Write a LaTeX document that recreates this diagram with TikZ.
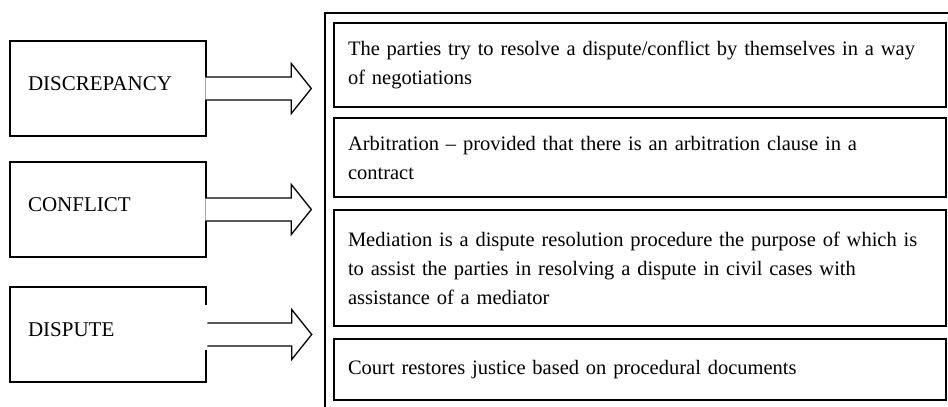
\documentclass[tikz,border=0pt]{standalone}
\usepackage{fontspec}
\setmainfont{Liberation Serif}
\usetikzlibrary{positioning}
\tikzstyle{term} = [rectangle, minimum width=196pt, minimum height=95pt, text width=160pt, inner xsep=18pt, align=left, text depth=10pt, outer sep=0pt, draw=black, line width=1.3pt, fill=white, font=\fontsize{21pt}{29pt}\selectfont]
\tikzstyle{option} = [rectangle, minimum width=612pt, text width=584pt, inner xsep=14pt, align=left, outer sep=0pt, draw=black, line width=1.6pt, fill=white, font=\fontsize{20.5pt}{29pt}\selectfont]
\tikzstyle{frame} = [draw=black, line width=1.8pt]
\tikzstyle{shaft} = [draw=black, fill=white, line width=1.3pt, line join=miter]

\begin{document}
\begin{tikzpicture}[x=1pt, y=1pt, node distance=123pt]

  \useasboundingbox (0,0) rectangle (948,407);
  \clip (0,0) rectangle (948,407);

  % We start by placing the blocks on the left
  \node (discrepancy) [term] at (108,318.5) {DISCREPANCY};
  \node (conflict) [term, below of=discrepancy, yshift=2pt] {CONFLICT};
  \node (dispute) [term, below of=conflict, yshift=-2pt] {DISPUTE};

  % The frame and the ways of settling
  \draw [frame] (325,394) rectangle (960,-10);
  \node (negotiation) [option, minimum height=84pt] at (640,342) {The parties try to resolve a dispute/conflict by themselves in a way\\of negotiations};
  \node (arbitration) [option, minimum height=79pt, below=11pt of negotiation] {Arbitration – provided that there is an arbitration clause in a\\contract};
  \node (mediation) [option, minimum height=116pt, below=13pt of arbitration] {Mediation is a dispute resolution procedure the purpose of which is\\to assist the parties in resolving a dispute in civil cases with\\assistance of a mediator};
  \node (court) [option, minimum height=61pt, below=13pt of mediation] {Court restores justice based on procedural documents};

  % Draw the arrows from the blocks to the frame
  \filldraw [shaft] ([xshift=-0.7pt, yshift=11.5pt]discrepancy.east) -- ++(86,0) -- ++(0,13.5) -- ++(20,-25) -- ++(-20,-25) -- ++(0,13.5) -- ([xshift=-0.7pt, yshift=-11.5pt]discrepancy.east);
  \filldraw [shaft] ([xshift=-0.7pt, yshift=11.5pt]conflict.east) -- ++(86,0) -- ++(0,13.5) -- ++(20,-25) -- ++(-20,-25) -- ++(0,13.5) -- ([xshift=-0.7pt, yshift=-11.5pt]conflict.east);
  \fill [white] ([xshift=-1pt, yshift=29.5pt]dispute.east) rectangle ([xshift=1pt, yshift=-15.5pt]dispute.east);
  \filldraw [shaft] ([xshift=1.3pt, yshift=11.5pt]dispute.east) -- ++(84.4,0) -- ++(0,13.5) -- ++(20,-25) -- ++(-20,-25) -- ++(0,13.5) -- ([xshift=1.3pt, yshift=-11.5pt]dispute.east);

\end{tikzpicture}
\end{document}
